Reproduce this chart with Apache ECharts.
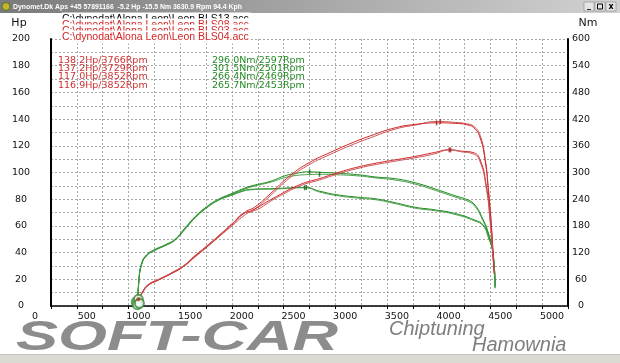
<!DOCTYPE html>
<html><head><meta charset="utf-8">
<script src="https://cdn.jsdelivr.net/npm/echarts@6/dist/echarts.min.js"></script>
<style>html,body{margin:0;padding:0;background:#fff}#c{width:620px;height:363px}</style>
</head><body><div id="c"></div>
<script>
// ---- data (rpm, Hp / Nm) ----
const rpmHpUp = [840,860,880,940,1040,1170,1280,1390,1500,1620,1750,1880,1970,2120,2310,2500,2700,2890,3090,3330,3520,3740,3910,4020,4090,4150,4200,4230,4260,4285];
const hpA = [2,6,9.5,15.5,19.5,24.5,29.5,36.5,43.5,51.5,60,68.5,72.5,82.5,96,106,113.5,120,126,132.5,135.5,138.2,137.5,136.5,134.5,128,110,88,60,25];
const hpB = [2,6.5,10,16,19.5,25,30,37.5,44.5,52.5,61.5,70.5,74,84,97.5,107.5,115,121.5,127.5,133.5,136,137.2,136.8,135.8,133.5,126,108,86,58,24];
const rpmHpLow = [840,860,880,940,1040,1170,1280,1390,1500,1620,1750,1880,1930,2180,2410,2600,2800,2990,3180,3330,3520,3710,3850,3970,4080,4150,4210,4245,4278];
const hpC = [2,6,9.5,15.5,19.5,24.5,29.5,37,44,52,61,70,71,82,91,95.5,100.5,104.5,107.5,109.5,112,115,117.0,116,115,109.5,90,67,34];
const hpD = [2,6.5,10,16,20,25,30,37.5,44.5,52.5,61.5,70,70.5,81,90,94.5,99.5,103.5,106.5,108.5,111,114,116.9,115.5,114,108,88,65,33];
const rpmTqUp = [840,850,877,925,1005,1100,1200,1295,1395,1505,1620,1750,1875,1975,2120,2255,2345,2500,2600,2765,2990,3135,3330,3520,3715,3905,4035,4100,4165,4230,4275,4295];
const tqB = [8,58,96,115,127,137,150,175,201,223,240,253,265,272,280,292,297,301.5,300.5,298.5,294.5,290,286,277,263,248,238,227,201,164,119,43];
const tqA = [8,55,93,113,125,135,148,172,198,220,238,251,263,270,278,288,292.5,295.5,296,295,292,288,283,274,260,245,235,224,198,160,116,40];
const rpmTqLow = [840,850,877,925,1005,1100,1200,1295,1395,1505,1620,1750,1860,1925,2180,2455,2600,2765,2990,3135,3330,3520,3715,3905,4100,4180,4230,4275,4295];
const tqC = [8,57,95,114,126,136,149,174,200,222,238,250,259,262,264,266.4,258,250,244,241,232,222,216,208,193,182,156,119,43];
const tqD = [8,56,94,113,126,136,149,173,199,221,238,249,258,261,263,265.7,256,248,242,239,230,220,214,206,191,180,154,117,40];
const startMarks = [[825,3],[845,5],[835,1],[855,2]];
const hpPeaks = [[3766,138.2],[3729,137.2],[3852,117.0],[3865,116.9]];
const tqPeaks = [[2597,296.0],[2501,301.5],[2469,266.4],[2453,265.7]];
const files = ['C:\\dynodat\\Alona Leon\\Leon BLS13.acc','C:\\dynodat\\Alona Leon\\Leon BLS08.acc','C:\\dynodat\\Alona Leon\\Leon BLS03.acc','C:\\dynodat\\Alona Leon\\Leon BLS04.acc'];
const hpText = ['138.2Hp/3766Rpm','137.2Hp/3729Rpm','117.0Hp/3852Rpm','116.9Hp/3852Rpm'];
const tqText = ['296.0Nm/2597Rpm','301.5Nm/2501Rpm','266.4Nm/2469Rpm','265.7Nm/2453Rpm'];
const titleText = 'Dynomet.Dk Aps +45 57891166  -5.2 Hp -15.5 Nm 3630.9 Rpm 94.4 Kph';

const RED = '#d42424', RED2 = '#c85858', GREEN = '#1a8a1a', GREEN2 = '#4c9e4c';
const pairs = (xs, ys) => xs.map((x, i) => [x, ys[i]]);
const dash = {color:'#a8a8a8', width:1, type:[2,2]};
const lbl = {fontFamily:'DejaVu Sans', fontSize:9.5, color:'#111', formatter: v => String(v)};

function line(name, xs, ys, color, yi){
  return {name, type:'line', data:pairs(xs, ys), yAxisIndex:yi, showSymbol:false, smooth:0.5,
    lineStyle:{color, width:1}, z:3, silent:true};
}

const chart = echarts.init(document.getElementById('c'));
const graphics = [
  {type:'rect', shape:{x:0,y:0,width:620,height:13}, style:{fill:new echarts.graphic.LinearGradient(0,0,1,0,[{offset:0,color:'#7a7a7a'},{offset:1,color:'#d2d2d2'}])}},
  {type:'circle', shape:{cx:6,cy:6.5,r:4}, style:{fill:'#c8b030', stroke:'#4a7a20', lineWidth:1}},
  {type:'text', x:13, y:7, scaleX:0.86, style:{text:titleText, fill:'#fff', font:'bold 8px "Liberation Sans"', verticalAlign:'middle'}},
  {type:'rect', shape:{x:584,y:2,width:10,height:9}, style:{fill:'#e4e4e4', stroke:'#777', lineWidth:0.5}},
  {type:'rect', shape:{x:595,y:2,width:10,height:9}, style:{fill:'#e4e4e4', stroke:'#777', lineWidth:0.5}},
  {type:'rect', shape:{x:606,y:2,width:10,height:9}, style:{fill:'#e4e4e4', stroke:'#777', lineWidth:0.5}},
  {type:'text', x:589, y:6, style:{text:'_', fill:'#000', font:'bold 8px "DejaVu Sans"', align:'center', verticalAlign:'middle'}},
  {type:'rect', shape:{x:597.5,y:4,width:5,height:5}, style:{fill:'none', stroke:'#000', lineWidth:1}},
  {type:'text', x:611, y:6.5, style:{text:'x', fill:'#000', font:'bold 8px "DejaVu Sans"', align:'center', verticalAlign:'middle'}},
  {type:'text', x:19, y:23, style:{text:'Hp', fill:'#111', font:'11px "DejaVu Sans"', align:'center', verticalAlign:'middle'}},
  {type:'text', x:588, y:23, style:{text:'Nm', fill:'#111', font:'11px "DejaVu Sans"', align:'center', verticalAlign:'middle'}},
  {type:'rect', shape:{x:0,y:355,width:620,height:8}, style:{fill:'#dadad2'}},
  {type:'rect', shape:{x:0,y:354,width:620,height:1}, style:{fill:'#c4c4bc'}},
  {type:'text', x:16, y:338, scaleX:1.5, style:{text:'SOFT-CAR', font:'italic bold 42px "Liberation Sans"', verticalAlign:'middle', fill:'#8c8c8c'}},
  {type:'text', x:389, y:329, style:{text:'Chiptuning', font:'italic 20px "Liberation Sans"', fill:'#7e7e7e', verticalAlign:'middle'}},
  {type:'text', x:472, y:345, style:{text:'Hamownia', font:'italic 20px "Liberation Sans"', fill:'#7e7e7e', verticalAlign:'middle'}}
];
const fileColors = ['#000', RED, RED, RED];
const fileY = [19, 25, 31, 37];
files.forEach((t, i) => graphics.push({type:'text', x:62, y:fileY[i], z:10+i,
  style:{text:t, fill:fileColors[i], font:'10.5px "Liberation Sans"', verticalAlign:'middle', backgroundColor:'#fff', padding:[1,2,1,0]}}));
const peakY = [61, 69, 77, 86];
hpText.forEach((t, i) => graphics.push({type:'text', x:58, y:peakY[i], z:20,
  style:{text:t, fill:'#cc3030', font:'9.5px "DejaVu Sans"', verticalAlign:'middle'}}));
tqText.forEach((t, i) => graphics.push({type:'text', x:212, y:peakY[i], z:20,
  style:{text:t, fill:'#228a22', font:'9.5px "DejaVu Sans"', verticalAlign:'middle'}}));

chart.setOption({
  animation:false,
  backgroundColor:'#fff',
  grid:{left:51, right:52, top:39, bottom:57, containLabel:false},
  xAxis:{type:'value', min:0, max:5000, interval:500,
    axisLine:{lineStyle:{color:'#000', width:1.5}},
    axisTick:{show:true, length:3, lineStyle:{color:'#000'}},
    minorTick:{show:true, splitNumber:2, length:3, lineStyle:{color:'#000'}},
    splitLine:{show:true, lineStyle:dash},
    minorSplitLine:{show:true, lineStyle:dash},
    axisLabel:Object.assign({margin:6, padding:[0,32,0,0]}, lbl)},
  yAxis:[
    {type:'value', min:0, max:200, interval:20, position:'left',
      axisLine:{show:true, lineStyle:{color:'#000', width:2}},
      axisTick:{show:false},
      minorTick:{show:false, splitNumber:2},
      splitLine:{show:true, lineStyle:dash},
      minorSplitLine:{show:true, lineStyle:dash},
      axisLabel:Object.assign({margin:30, align:'center', padding:[0,0,6,0]}, lbl)},
    {type:'value', min:0, max:600, interval:60, position:'right',
      axisLine:{show:true, lineStyle:{color:'#000', width:2}},
      axisTick:{show:false},
      splitLine:{show:false},
      axisLabel:Object.assign({margin:13, align:'center', padding:[0,0,5,0]}, lbl)}
  ],
  graphic:graphics,
  series:[
    line('tqA', rpmTqUp, tqA, GREEN2, 1),
    line('tqB', rpmTqUp, tqB, GREEN, 1),
    line('tqC', rpmTqLow, tqC, GREEN, 1),
    line('tqD', rpmTqLow, tqD, GREEN2, 1),
    line('hpA', rpmHpUp, hpA, RED2, 0),
    line('hpB', rpmHpUp, hpB, RED, 0),
    line('hpC', rpmHpLow, hpC, RED, 0),
    line('hpD', rpmHpLow, hpD, RED2, 0),
    {type:'scatter', data:startMarks, symbol:'emptyCircle', symbolSize:9, itemStyle:{color:'#3a8a3a', borderWidth:0.8}, z:4, silent:true},
    {type:'scatter', data:[startMarks[1]], symbol:'circle', symbolSize:4, itemStyle:{color:'#a04020'}, z:5, silent:true},
    {type:'scatter', data:hpPeaks, symbol:'rect', symbolSize:[1.5,5], itemStyle:{color:'#a02020'}, z:5, silent:true},
    {type:'scatter', yAxisIndex:1, data:tqPeaks, symbol:'rect', symbolSize:[1.5,5], itemStyle:{color:'#106010'}, z:5, silent:true}
  ]
});
</script></body></html>
